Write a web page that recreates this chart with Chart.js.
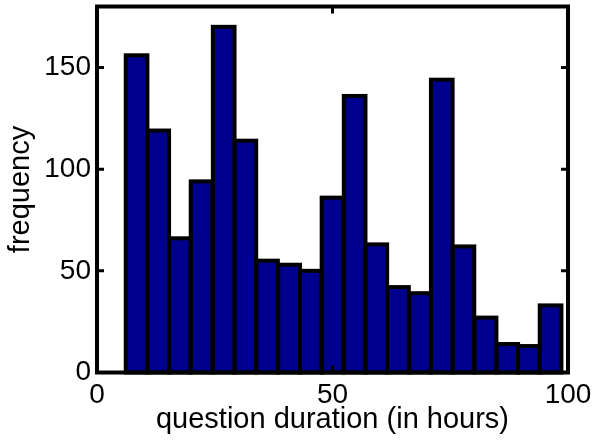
<!DOCTYPE html>
<html lang="en">
<head>
  <meta charset="utf-8">
  <title>question duration histogram</title>
  <script src="https://cdn.jsdelivr.net/npm/chart.js"></script>
  <style>
    html, body { margin: 0; padding: 0; background: #fff; }
    #wrap { width: 593px; height: 442px; }
  </style>
</head>
<body>
  <div id="wrap"><canvas id="myChart" width="593" height="442"></canvas></div>

<script>
  // bin centres (hours) and counts
  var binCenters = [8.4, 13.0, 17.6, 22.2, 26.9, 31.5, 36.1, 40.8, 45.4, 50.0,
                    54.7, 59.3, 63.9, 68.6, 73.2, 77.8, 82.5, 87.1, 91.7, 96.3];
  var counts = [156, 119, 66, 94, 170, 114, 55, 53, 50, 86,
                136, 63, 42, 39, 144, 62, 27, 14, 13, 33];
  var xTicks = [0, 50, 100];
  var yTicks = [0, 50, 100, 150];

  Chart.defaults.font.family = "'Liberation Sans', Arial, sans-serif";
  Chart.defaults.color = '#000';

  // outline each bar centred on its edges (like matlab), then the box with inward ticks
  var boxPlugin = {
    id: 'box',
    afterDatasetsDraw: function (chart) {
      var ctx = chart.ctx, a = chart.chartArea;
      var xs = chart.scales.x, ys = chart.scales.y;
      var len = 7;
      ctx.save();
      ctx.strokeStyle = '#000';
      ctx.lineJoin = 'miter';
      ctx.lineWidth = 4;
      chart.getDatasetMeta(0).data.forEach(function (bar) {
        var p = bar.getProps(['x', 'y', 'width', 'base'], true);
        ctx.strokeRect(p.x - p.width / 2, p.y, p.width, p.base - p.y);
      });
      ctx.lineWidth = 3;
      ctx.beginPath();
      xs.ticks.forEach(function (t) {
        var px = xs.getPixelForValue(t.value);
        ctx.moveTo(px, a.bottom); ctx.lineTo(px, a.bottom - len);
        ctx.moveTo(px, a.top); ctx.lineTo(px, a.top + len);
      });
      ys.ticks.forEach(function (t) {
        var py = ys.getPixelForValue(t.value);
        ctx.moveTo(a.left, py); ctx.lineTo(a.left + len, py);
        ctx.moveTo(a.right, py); ctx.lineTo(a.right - len, py);
      });
      ctx.stroke();
      ctx.lineWidth = 4;
      ctx.strokeRect(a.left, a.top, a.right - a.left, a.bottom - a.top);
      ctx.restore();
    }
  };

  var ctx = document.getElementById('myChart').getContext('2d');
  var myChart = new Chart(ctx, {
    type: 'bar',
    data: {
      datasets: [{
        data: binCenters.map(function (c, i) { return { x: c, y: counts[i] }; }),
        backgroundColor: '#00008F',
        borderWidth: 0,
        inflateAmount: 0,
        barPercentage: 1,
        categoryPercentage: 1
      }]
    },
    options: {
      responsive: false,
      animation: false,
      layout: { padding: { top: 6.5, right: 25, left: 0, bottom: 0 } },
      plugins: { legend: { display: false }, tooltip: { enabled: false } },
      scales: {
        x: {
          type: 'linear',
          min: 0, max: 100,
          offset: false,
          afterBuildTicks: function (s) { s.ticks = xTicks.map(function (v) { return { value: v }; }); },
          afterFit: function (s) { s.height = 69.5; s.paddingLeft = 0; s.paddingRight = 0; },
          grid: { display: false, drawTicks: false, offset: false },
          border: { display: false },
          ticks: { padding: 6, maxRotation: 0, font: { size: 28 } },
          title: { display: true, text: 'question duration (in hours)', font: { size: 29 }, padding: { top: 0, bottom: 4.6 } }
        },
        y: {
          min: 0, max: 180,
          afterBuildTicks: function (s) { s.ticks = yTicks.map(function (v) { return { value: v }; }); },
          afterFit: function (s) { s.width = 97; s.paddingTop = 0; s.paddingBottom = 0; },
          grid: { display: false, drawTicks: false },
          border: { display: false },
          ticks: { padding: 6, font: { size: 28 } },
          title: { display: true, text: 'frequency', font: { size: 29 }, padding: { top: 3.5, bottom: 0 } }
        }
      }
    },
    plugins: [boxPlugin]
  });
</script>
</body>
</html>
